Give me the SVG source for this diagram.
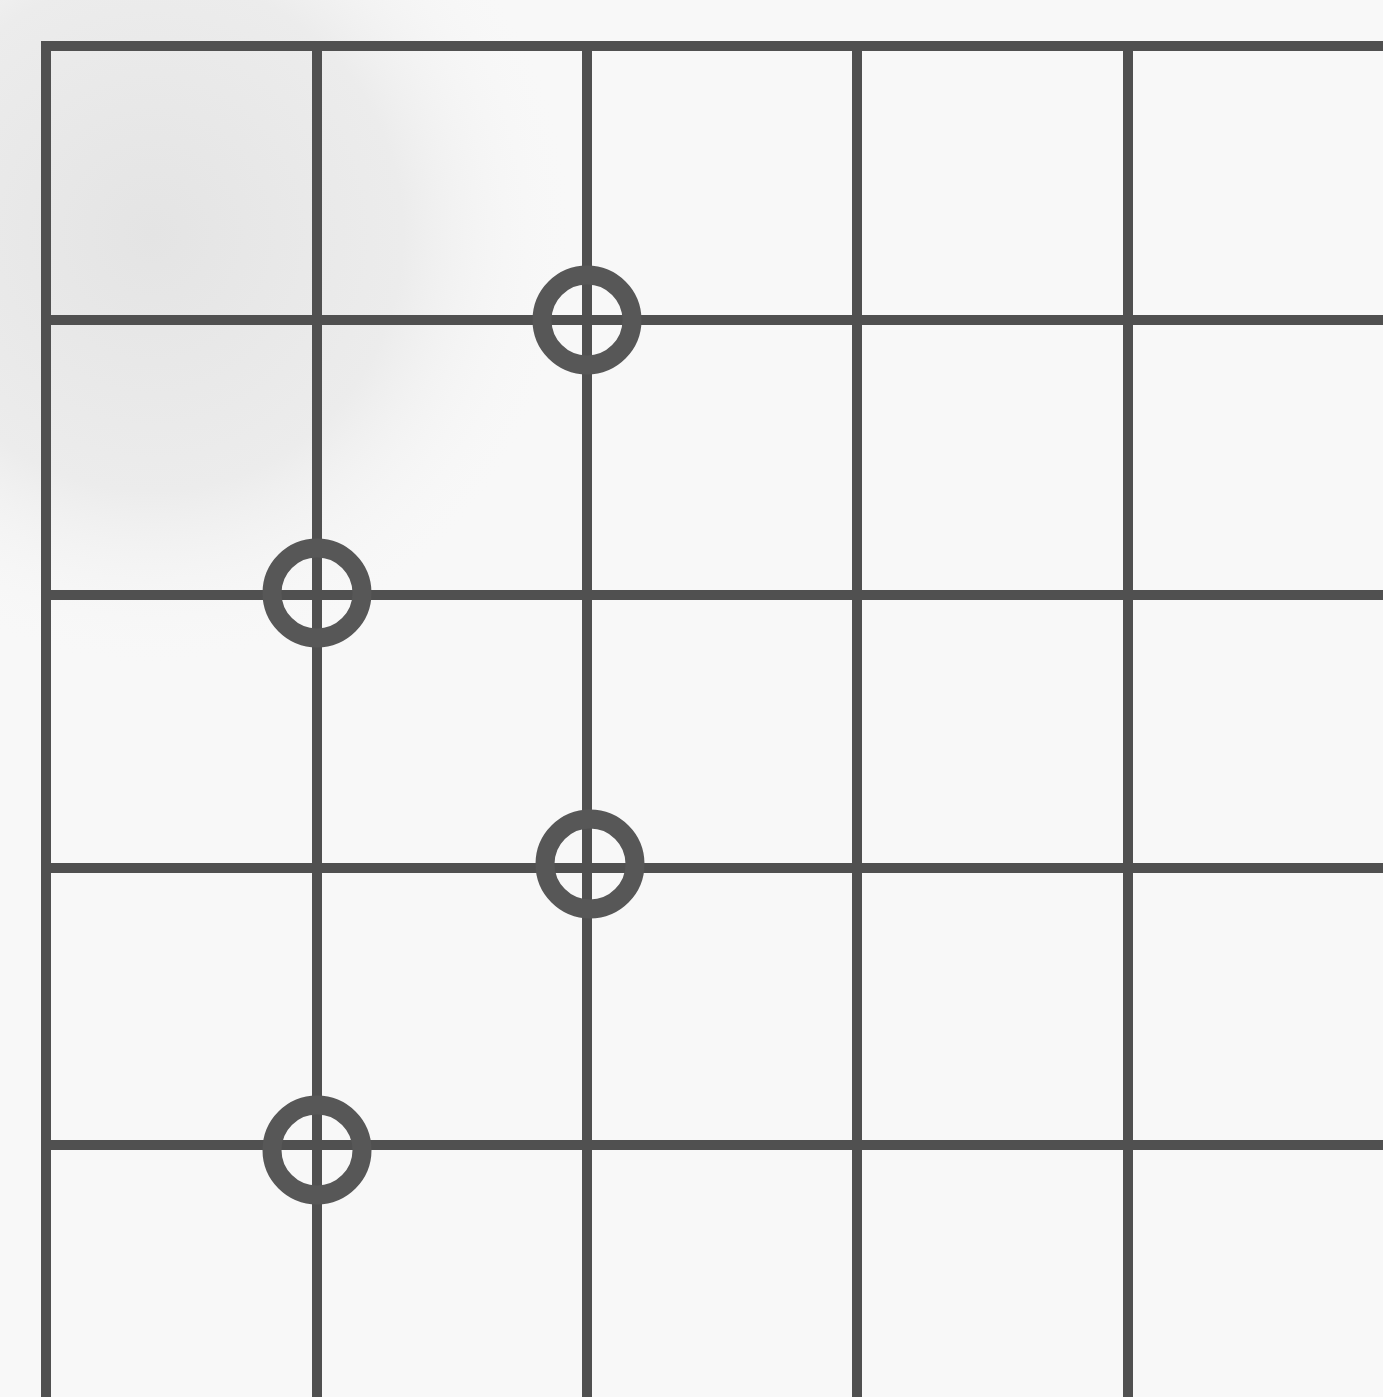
<svg xmlns="http://www.w3.org/2000/svg" width="1383" height="1397" viewBox="0 0 1383 1397">
<defs>
<radialGradient id="shade" cx="0.2" cy="0.3" r="0.55">
<stop offset="0" stop-color="#e4e4e4"/>
<stop offset="0.6" stop-color="#ececec"/>
<stop offset="1" stop-color="#f7f7f7" stop-opacity="0"/>
</radialGradient>
<style>
.g{stroke:#505050;stroke-width:10;fill:none;stroke-linecap:butt}
.m{stroke:#575757;stroke-width:19;fill:none}
</style>
</defs>
<rect width="1383" height="1397" fill="#f8f8f8"/>
<rect x="0" y="0" width="760" height="780" fill="url(#shade)"/>
<g id="grid">
<line class="g" x1="46" y1="41" x2="46" y2="1397"/>
<line class="g" x1="317" y1="41" x2="317" y2="1397"/>
<line class="g" x1="587" y1="41" x2="587" y2="1397"/>
<line class="g" x1="857" y1="41" x2="857" y2="1397"/>
<line class="g" x1="1128" y1="41" x2="1128" y2="1397"/>
<line class="g" x1="41" y1="46" x2="1383" y2="46"/>
<line class="g" x1="41" y1="320" x2="1383" y2="320"/>
<line class="g" x1="41" y1="595" x2="1383" y2="595"/>
<line class="g" x1="41" y1="868" x2="1383" y2="868"/>
<line class="g" x1="41" y1="1145" x2="1383" y2="1145"/>
</g>
<g id="m1"><circle class="m" cx="587" cy="320" r="45"/></g>
<g id="m2"><circle class="m" cx="317" cy="593" r="45"/></g>
<g id="m3"><circle class="m" cx="590" cy="864" r="45"/></g>
<g id="m4"><circle class="m" cx="317" cy="1150" r="45"/></g>
</svg>
